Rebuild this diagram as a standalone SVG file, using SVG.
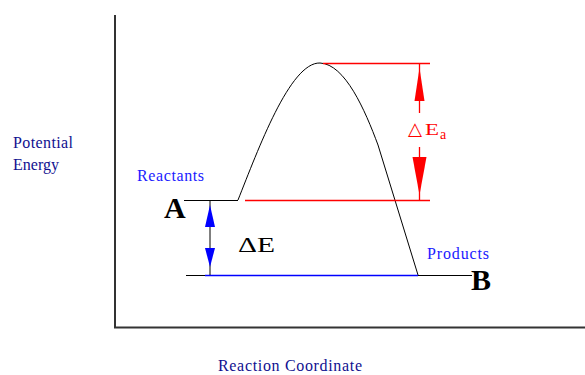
<svg xmlns="http://www.w3.org/2000/svg" width="585" height="375" viewBox="0 0 585 375">
<style>
text{font-family:'Liberation Serif','Times New Roman',serif}
.lbl{font-size:16px}
.big{font-size:30px;font-weight:bold}
</style>
<rect width="585" height="375" fill="#ffffff"/>
<g id="axes">
<path d="M115,15 V327.5 H585" stroke="#333333" stroke-width="2" fill="none"/>
</g>
<g id="connectors" fill="none">
<path d="M184,200.5 H238" stroke="#000000" stroke-width="1"/>
<path d="M238,200 C258,150 290,62 320,63 C345,64 365,110 378,145 L418,275" stroke="#000000" stroke-width="1"/>
<path d="M186,275.5 H472" stroke="#000000" stroke-width="1"/>
<path d="M205,275.5 H418" stroke="#0000ff" stroke-width="1.3"/>
<path d="M245,200.5 H430" stroke="#ff0000" stroke-width="1.3"/>
<path d="M323,63.5 H430" stroke="#ff0000" stroke-width="1.3"/>
<path d="M210,201 V275" stroke="#000000" stroke-width="1"/>
<polygon fill="#0000ff" points="210,205 205,227 215,227"/>
<polygon fill="#0000ff" points="205,248 215,248 210,267"/>
<path d="M419.5,64 V113 M419.5,147 V200" stroke="#ff0000" stroke-width="1.3"/>
<polygon fill="#ff0000" points="419.5,68 414.5,101 424.5,101"/>
<polygon fill="#ff0000" points="412.5,157 426.5,157 419.5,195"/>
</g>
<g id="label-pe">
<text class="lbl" fill="#101090" x="13" y="148" textLength="60">Potential</text>
<text class="lbl" fill="#101090" x="13" y="170">Energy</text>
</g>
<g id="label-rc">
<text class="lbl" fill="#101090" x="218" y="371" textLength="144">Reaction Coordinate</text>
</g>
<g id="node-reactants">
<text class="lbl" fill="#1a1aff" x="137" y="181" textLength="67">Reactants</text>
<text class="big" fill="#000000" x="164" y="218">A</text>
</g>
<g id="node-products">
<text class="lbl" fill="#1a1aff" x="427" y="259" textLength="62">Products</text>
<text class="big" fill="#000000" x="471" y="290">B</text>
</g>
<g id="label-de">
<text x="238" y="252" font-size="20" fill="#000000" textLength="37" lengthAdjust="spacingAndGlyphs">ΔE</text>
</g>
<g id="label-dea">
<text x="408" y="135" font-size="18" fill="#ff0000" style="font-family:'DejaVu Sans',sans-serif" textLength="14" lengthAdjust="spacingAndGlyphs">△</text>
<text x="425" y="135" font-size="17" fill="#ff0000" textLength="14" lengthAdjust="spacingAndGlyphs">E</text>
<text x="440" y="139" font-size="14" fill="#ff0000">a</text>
</g>
</svg>
